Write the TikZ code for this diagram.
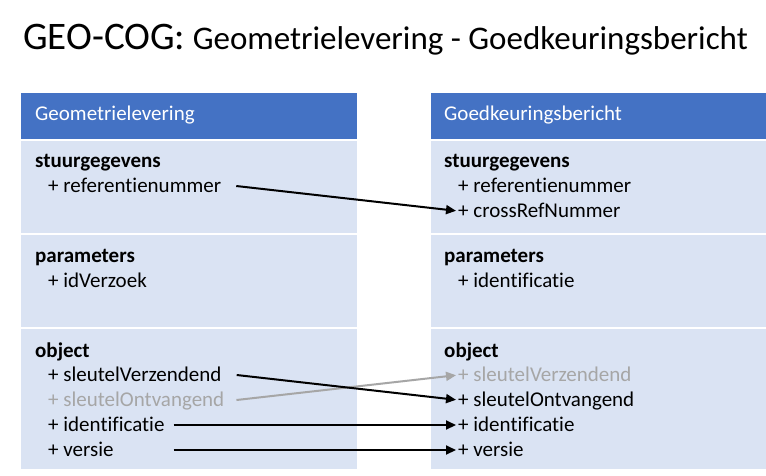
\documentclass[tikz,border=0pt]{standalone}
\usepackage{fontspec}
\setmainfont{Carlito}[Ligatures={NoCommon}]
\usetikzlibrary{arrows.meta}
\definecolor{hdrblue}{HTML}{4472C4}
\definecolor{bodyblue}{HTML}{DAE3F3}
\definecolor{greytxt}{HTML}{A6A6A6}
\begin{document}
\begin{tikzpicture}[x=1pt,y=-1pt,
  txt/.style={anchor=base west,inner sep=0pt,text height=12pt,text depth=0pt,font=\fontsize{21}{25}\selectfont},
  hdrtxt/.style={txt,text=white},
  grey/.style={txt,text=greytxt},
  hdrbox/.style={fill=hdrblue},
  bodybox/.style={fill=bodyblue},
  conn/.style={line width=2pt,-{Triangle[length=10pt,width=9pt]},shorten >=2pt},
  greyconn/.style={conn,draw=greytxt}]
\useasboundingbox (0,0) rectangle (766,475);
\fill[white] (0,0) rectangle (766,475);
% title
\node[anchor=base west,inner sep=0pt] (title) at (23,49)
  {\fontsize{39}{46}\selectfont GEO-COG:\fontsize{33}{40}\selectfont{} Geometrielevering - Goedkeuringsbericht};
% left boxes
\fill[hdrbox] (21,93) rectangle (357,139);
\fill[bodybox] (21,141) rectangle (357,233);
\fill[bodybox] (21,235) rectangle (357,327);
\fill[bodybox] (21,329) rectangle (357,469);
% right boxes
\fill[hdrbox] (431,93) rectangle (766,139);
\fill[bodybox] (431,141) rectangle (766,233);
\fill[bodybox] (431,235) rectangle (766,327);
\fill[bodybox] (431,329) rectangle (766,469);
% left texts
\node[hdrtxt] (lh) at (35,120) {Geometrielevering};
\node[txt] (ls) at (35,167) {\bfseries stuurgegevens};
\node[txt] (lref) at (48,192) {+ referentienummer};
\node[txt] (lp) at (35,262) {\bfseries parameters};
\node[txt] (lid) at (48,287) {+ idVerzoek};
\node[txt] (lo) at (35,357) {\bfseries object};
\node[txt] (lsv) at (48,381) {+ sleutelVerzendend};
\node[grey] (lso) at (48,406) {+ sleutelOntvangend};
\node[txt] (lidf) at (48,431) {+ identificatie};
\node[txt] (lver) at (48,456) {+ versie};
% right texts
\node[hdrtxt] (rh) at (444,120) {Goedkeuringsbericht};
\node[txt] (rs) at (444,167) {\bfseries stuurgegevens};
\node[txt] (rref) at (458,192) {+ referentienummer};
\node[txt] (rcross) at (458,217) {+ crossRefNummer};
\node[txt] (rp) at (444,262) {\bfseries parameters};
\node[txt] (rid) at (458,287) {+ identificatie};
\node[txt] (ro) at (444,357) {\bfseries object};
\node[grey] (rsv) at (458,381) {+ sleutelVerzendend};
\node[txt] (rso) at (458,406) {+ sleutelOntvangend};
\node[txt] (ridf) at (458,431) {+ identificatie};
\node[txt] (rver) at (458,456) {+ versie};
% connectors
\draw[conn] ([xshift=15pt]lref.east) -- (rcross.west);
\draw[greyconn] ([xshift=12pt]lso.east) -- (rsv.west);
\draw[conn] ([xshift=15pt]lsv.east) -- (rso.west);
\draw[conn] ([xshift=9pt]lidf.east) coordinate (s4) -- (ridf.west);
\draw[conn] (s4 |- lver.east) -- (rver.west);
\end{tikzpicture}
\end{document}
